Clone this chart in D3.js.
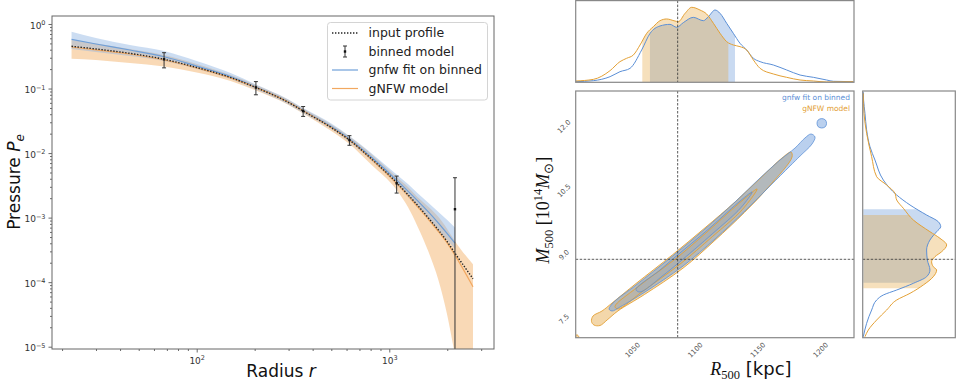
<!DOCTYPE html>
<html lang="en">
<head>
<meta charset="UTF-8" />
<title>Pressure profile and R500-M500 posterior</title>
<script src="https://d3js.org/d3.v7.min.js"></script>
<style>
  body { margin: 0; background: #fff; }
  svg { display: block; font-family: "DejaVu Sans", sans-serif; }
</style>
</head>
<body>
<svg id="chart" width="958" height="384"></svg>
<script>
// ---------- left panel data (radius in kpc, pressure) ----------
const radius       = [22.4, 30, 45, 67.7, 100, 150, 203, 300, 357, 500, 621, 800, 1092, 1250, 1400, 1600, 1800, 2000, 2193, 2720];
const inputProfile = [0.451, 0.410, 0.351, 0.284, 0.212, 0.148, 0.1036, 0.0607, 0.0448, 0.0248, 0.0159, 0.00836, 0.00349, 0.002273, 0.001562, 0.000982, 0.000640, 0.000424, 0.000282, 0.000113];
const fitBinned    = [0.579, 0.490, 0.395, 0.311, 0.223, 0.1535, 0.1055, 0.0618, 0.0456, 0.0257, 0.0165, 0.00883, 0.00381, 0.002576, 0.001835, 0.001217, 0.000822, 0.000565, 0.000402];
const fitBinnedHi  = [0.760, 0.607, 0.472, 0.381, 0.267, 0.1739, 0.1153, 0.0675, 0.0498, 0.0287, 0.01835, 0.01018, 0.00464, 0.003307, 0.002398, 0.001678, 0.001217, 0.000915, 0.000700];
const fitBinnedLo  = [0.410, 0.368, 0.319, 0.267, 0.2006, 0.1404, 0.0965, 0.0565, 0.0417, 0.02355, 0.01481, 0.00779, 0.003248, 0.002079, 0.001455, 0.000948, 0.000640, 0.000448, 0.000325];
const gnfwModel    = [0.440, 0.398, 0.343, 0.2766, 0.2079, 0.1465, 0.1036, 0.0611, 0.0451, 0.02485, 0.0159, 0.00822, 0.003365, 0.002194, 0.001481, 0.000931, 0.000607, 0.000402, 0.000262, 0.0000846];
const gnfwModelHi  = [0.565, 0.498, 0.410, 0.3307, 0.2398, 0.1619, 0.1133, 0.0663, 0.0490, 0.02766, 0.01803, 0.00982, 0.004245, 0.002971, 0.002079, 0.001455, 0.001018, 0.000663, 0.000432, 0.000190];
const gnfwModelLo  = [0.2897, 0.2766, 0.2485, 0.2194, 0.1771, 0.1307, 0.0931, 0.0555, 0.0410, 0.02194, 0.01379, 0.00675, 0.002669, 0.001455, 0.000738, 0.000292, 0.000107, 0.0000308, 0.00000738, 0.00000017];

const binRadius   = [67.7, 203, 357, 621, 1092, 2193];
const binPressure = [0.284, 0.104, 0.0448, 0.0159, 0.0034, 0.00135];
const binError    = [0.075, 0.024, 0.0078, 0.0027, 0.001, 0.0028];

const pressureTicks = [1, 1e-1, 1e-2, 1e-3, 1e-4, 1e-5];
const radiusTicks = [100, 1000];
const legendLabels = ["input profile", "binned model", "gnfw fit on binned", "gNFW model"];

// ---------- right panel data (R500 kpc, M500 1e14 Msun) ----------
const r500Ticks = [1050, 1100, 1150, 1200];
const m500Ticks = [7.5, 9.0, 10.5, 12.0];
const r500True = 1086;
const m500True = 8.895;

// marginal of R500: [R500, density]
const r500KdeBinned = [[1004.7,0.008],[1018.8,0.020],[1032.1,0.069],[1040,0.130],[1048,0.171],[1057.3,0.396],[1064,0.600],[1071.9,0.690],[1079.9,0.710],[1085.2,0.674],[1090.5,0.731],[1098.5,0.796],[1106.5,0.755],[1110.5,0.804],[1115.8,0.886],[1119.8,0.845],[1125.1,0.723],[1130.4,0.600],[1135.7,0.478],[1141,0.396],[1146.4,0.294],[1151.7,0.253],[1162.3,0.212],[1172.9,0.151],[1183.6,0.089],[1194.2,0.061],[1204.8,0.028],[1210.2,0.012],[1226.1,0.008]];
const r500KdeModel  = [[1004.7,0.016],[1018.8,0.036],[1032.1,0.143],[1040,0.253],[1045.3,0.294],[1050.7,0.335],[1056,0.457],[1061.3,0.600],[1066.6,0.682],[1071.9,0.755],[1077.2,0.776],[1083.9,0.751],[1086.5,0.743],[1091.9,0.845],[1097.2,0.919],[1103.8,0.886],[1109.1,0.837],[1114.5,0.723],[1119.8,0.600],[1125.1,0.498],[1130.4,0.457],[1135.7,0.437],[1141,0.396],[1146.4,0.273],[1151.7,0.171],[1162.3,0.102],[1172.9,0.061],[1183.6,0.028],[1194.2,0.016],[1204.8,0.004],[1226.1,0.008]];
const r500IntervalBinned = [1063.9, 1131.7];
const r500IntervalModel  = [1057.8, 1126.4];

// marginal of M500: [M500, density]
const m500KdeBinned = [[12.80,0.0],[12.618,0.003],[12.307,0.018],[11.917,0.036],[11.526,0.072],[11.215,0.126],[10.748,0.216],[10.398,0.360],[10.164,0.504],[9.930,0.683],[9.774,0.809],[9.657,0.835],[9.540,0.791],[9.346,0.719],[9.112,0.683],[8.878,0.691],[8.645,0.719],[8.488,0.683],[8.334,0.540],[8.177,0.360],[8.061,0.216],[7.944,0.144],[7.710,0.090],[7.399,0.036],[7.086,0.0]];
const m500KdeModel  = [[12.774,0.0],[12.307,0.0075],[11.839,0.036],[11.293,0.09],[10.825,0.144],[10.631,0.252],[10.437,0.342],[10.281,0.360],[10.087,0.432],[9.813,0.540],[9.540,0.719],[9.386,0.827],[9.229,0.899],[9.072,0.845],[8.956,0.773],[8.838,0.737],[8.722,0.755],[8.645,0.791],[8.488,0.755],[8.294,0.647],[8.100,0.504],[7.944,0.360],[7.710,0.252],[7.476,0.144],[7.243,0.054],[7.086,0.018]];
const m500IntervalBinned = [8.348, 10.063];
const m500IntervalModel  = [8.217, 9.930];

// 2D contours: [R500, M500]
const contourModelOuter = [[1017.3,7.441],[1018.5,7.57],[1025.7,7.687],[1033.7,7.874],[1052.8,8.329],[1081.8,8.998],[1107.8,9.631],[1132.2,10.246],[1152.7,10.811],[1169.2,11.262],[1176.4,11.402],[1177.2,11.285],[1158.7,10.592],[1139.2,9.989],[1115.8,9.341],[1090.3,8.689],[1059.5,8.072],[1038.4,7.689],[1029.7,7.476],[1024.1,7.348],[1019.3,7.359]];
const contourModelInner = [[1036.0,7.792],[1054.4,8.254],[1084.3,8.907],[1110.0,9.549],[1134.0,10.180],[1149.3,10.538],[1137.5,10.054],[1113.6,9.423],[1087.8,8.780],[1057.7,8.138],[1038.4,7.733]];
const contourModelSpeck = [[1004.2,7.08],[1005.7,7.13],[1007.2,7.08],[1005.7,7.03]];
const contourBinnedOuter = [[1031.3,7.733],[1035.2,7.897],[1052.8,8.294],[1081.5,8.960],[1107.8,9.603],[1131.7,10.234],[1151.7,10.795],[1167.6,11.215],[1179.6,11.496],[1187.5,11.730],[1192.3,11.823],[1195.5,11.753],[1193.1,11.589],[1183.6,11.309],[1175.6,11.075],[1159.6,10.608],[1139.7,10.024],[1115.8,9.369],[1090.3,8.738],[1060.0,8.131],[1040.0,7.780],[1033.7,7.687]];
const contourBinnedInner = [[1052.8,8.189],[1071.9,8.645],[1084.7,8.965],[1110.2,9.591],[1134.1,10.215],[1145.3,10.468],[1136.5,10.105],[1112.6,9.463],[1087.1,8.820],[1074.3,8.516],[1056.0,8.131]];
const contourBinnedBlob = [[1197.1,12.073],[1198.0,12.151],[1200.9,12.183],[1203.8,12.151],[1204.7,12.073],[1203.8,11.995],[1200.9,11.963],[1198.0,11.995]];

// ---------- colours ----------
const blueLine = "#6f9fd8", orangeLine = "#f2a860";
const blueFill = "#8fb4e3", orangeFill = "#f3b46e";
const blueK = "#5b8fd6", orangeK = "#e3a035";

const svg = d3.select("#chart");
const defs = svg.append("defs");
function clipRect(id, x, y, w, h) {
  defs.append("clipPath").attr("id", id).append("rect")
    .attr("x", x).attr("y", y).attr("width", w).attr("height", h);
  return `url(#${id})`;
}

// ================= left panel =================
const L = { x0: 52, x1: 494, y0: 16, y1: 349 };
const x = d3.scaleLog().domain([17.73, 3497]).range([L.x0, L.x1]);
const y = d3.scaleLog().domain([1.33, 9.21e-6]).range([L.y0, L.y1]);

const left = svg.append("g");
const plot = left.append("g").attr("clip-path", clipRect("clipL", L.x0, L.y0, L.x1 - L.x0, L.y1 - L.y0));

function band(lo) {
  return d3.area()
    .x((d, i) => x(radius[i]))
    .y0((d, i) => y(lo[i]))
    .y1(d => y(d))
    .curve(d3.curveMonotoneX);
}
const line = d3.line().x((d, i) => x(radius[i])).y(d => y(d)).curve(d3.curveMonotoneX);

plot.append("path").datum(gnfwModelHi).attr("d", band(gnfwModelLo))
  .attr("fill", orangeFill).attr("fill-opacity", 0.5);
plot.append("path").datum(fitBinnedHi).attr("d", band(fitBinnedLo))
  .attr("fill", blueFill).attr("fill-opacity", 0.45);
plot.append("path").datum(fitBinned).attr("d", line)
  .attr("fill", "none").attr("stroke", blueLine).attr("stroke-width", 1.2);
plot.append("path").datum(gnfwModel).attr("d", line)
  .attr("fill", "none").attr("stroke", orangeLine).attr("stroke-width", 1.2);
plot.append("path").datum(inputProfile).attr("d", line)
  .attr("fill", "none").attr("stroke", "#222").attr("stroke-width", 1.4).attr("stroke-dasharray", "1.4,1.6");

// error bars
const ymin = y.domain()[1];
binRadius.forEach((r, i) => {
  const cx = x(r);
  const top = y(binPressure[i] + binError[i]);
  const lowV = binPressure[i] - binError[i];
  const bot = lowV > 0 ? y(lowV) : y(ymin) + 5;
  const g = plot.append("g").attr("stroke", "#333").attr("stroke-width", 1);
  g.append("line").attr("x1", cx).attr("x2", cx).attr("y1", top).attr("y2", bot);
  g.append("line").attr("x1", cx - 2).attr("x2", cx + 2).attr("y1", top).attr("y2", top);
  g.append("line").attr("x1", cx - 2).attr("x2", cx + 2).attr("y1", bot).attr("y2", bot);
  plot.append("rect").attr("x", cx - 1.2).attr("y", y(binPressure[i]) - 1.2)
    .attr("width", 2.4).attr("height", 2.4).attr("fill", "#111");
});

// axes
function powLabel(sel) {
  sel.each(function (d) {
    const t = d3.select(this);
    const e = Math.round(Math.log10(d));
    t.text("10");
    t.append("tspan").attr("dy", "-0.55em").attr("font-size", "6.5px")
      .text(e < 0 ? "\u2212" + (-e) : String(e));
  });
}
function styleAxis(g) {
  g.select(".domain").remove();
  g.selectAll(".tick line").attr("stroke", "#444").attr("stroke-width", 0.8);
  g.selectAll(".tick text").attr("fill", "#333").attr("font-size", "9px")
    .attr("font-family", "DejaVu Sans, sans-serif");
}
const minorX = x.ticks().filter(v => !radiusTicks.includes(v));
const minorY = y.ticks().filter(v => !pressureTicks.some(p => Math.abs(p - v) / p < 1e-6));

left.append("g").attr("transform", `translate(0,${L.y1})`)
  .call(d3.axisBottom(x).tickValues(minorX).tickSize(2).tickFormat(() => ""))
  .call(styleAxis);
left.append("g").attr("transform", `translate(0,${L.y1})`)
  .call(d3.axisBottom(x).tickValues(radiusTicks).tickSize(3.5).tickPadding(5).tickFormat(() => ""))
  .call(styleAxis)
  .call(g => g.selectAll(".tick text").call(powLabel));
left.append("g").attr("transform", `translate(${L.x0},0)`)
  .call(d3.axisLeft(y).tickValues(minorY).tickSize(2).tickFormat(() => ""))
  .call(styleAxis);
left.append("g").attr("transform", `translate(${L.x0},0)`)
  .call(d3.axisLeft(y).tickValues(pressureTicks).tickSize(3.5).tickPadding(3).tickFormat(() => ""))
  .call(styleAxis)
  .call(g => g.selectAll(".tick text").attr("dy", "0.45em").call(powLabel));

left.append("rect").attr("x", L.x0).attr("y", L.y0)
  .attr("width", L.x1 - L.x0).attr("height", L.y1 - L.y0)
  .attr("fill", "none").attr("stroke", "#666").attr("stroke-width", 1);

// axis titles
const ylab = left.append("text").attr("transform", "translate(20,182) rotate(-90)")
  .attr("text-anchor", "middle").attr("font-size", "17px").attr("fill", "#111");
ylab.append("tspan").text("Pressure ");
ylab.append("tspan").attr("font-style", "italic").text("P");
ylab.append("tspan").attr("font-style", "italic").attr("font-size", "12px").attr("dy", 4).text("e");
const xlab = left.append("text").attr("x", 281).attr("y", 377)
  .attr("text-anchor", "middle").attr("font-size", "17px").attr("fill", "#111");
xlab.append("tspan").text("Radius ");
xlab.append("tspan").attr("font-style", "italic").text("r");

// legend
const lg = left.append("g");
lg.append("rect").attr("x", 327.5).attr("y", 22.5).attr("width", 160).attr("height", 77.5)
  .attr("rx", 3).attr("fill", "#fff").attr("fill-opacity", 0.85).attr("stroke", "#d4d4d4");
const rowY = [33, 51.5, 70, 88.5];
lg.append("line").attr("x1", 332).attr("x2", 358).attr("y1", rowY[0]).attr("y2", rowY[0])
  .attr("stroke", "#222").attr("stroke-width", 1.4).attr("stroke-dasharray", "1.4,1.6");
const eg = lg.append("g").attr("stroke", "#333").attr("stroke-width", 1);
eg.append("line").attr("x1", 345).attr("x2", 345).attr("y1", rowY[1] - 5.5).attr("y2", rowY[1] + 5.5);
eg.append("line").attr("x1", 343).attr("x2", 347).attr("y1", rowY[1] - 5.5).attr("y2", rowY[1] - 5.5);
eg.append("line").attr("x1", 343).attr("x2", 347).attr("y1", rowY[1] + 5.5).attr("y2", rowY[1] + 5.5);
lg.append("rect").attr("x", 343.8).attr("y", rowY[1] - 1.2).attr("width", 2.4).attr("height", 2.4).attr("fill", "#111");
lg.append("line").attr("x1", 332).attr("x2", 358).attr("y1", rowY[2]).attr("y2", rowY[2])
  .attr("stroke", blueLine).attr("stroke-width", 1.2);
lg.append("line").attr("x1", 332).attr("x2", 358).attr("y1", rowY[3]).attr("y2", rowY[3])
  .attr("stroke", orangeLine).attr("stroke-width", 1.2);
legendLabels.forEach((t, i) => {
  lg.append("text").attr("x", 368.5).attr("y", rowY[i]).attr("dy", "0.35em")
    .attr("font-size", "12.5px").attr("fill", "#222").text(t);
});

// ================= right panel =================
const M = { x0: 575.7, x1: 854, y0: 91, y1: 337.7 };
const T = { y0: 0.6, y1: 82.3 };
const S = { x0: 862.7, x1: 955.3 };
const xR = d3.scaleLinear().domain([1004.7, 1226.6]).range([M.x0, M.x1]);
const yM = d3.scaleLinear().domain([7.063, 12.828]).range([M.y1, M.y0]);
const yTop = d3.scaleLinear().domain([0, 1]).range([T.y1, T.y0 + 0.1]);
const xSide = d3.scaleLinear().domain([0, 1]).range([S.x0 + 0.6, 956]);

const right = svg.append("g");

// --- top marginal ---
const topG = right.append("g").attr("clip-path", clipRect("clipT", M.x0, T.y0, M.x1 - M.x0, T.y1 - T.y0));
const topArea = d3.area().x(d => xR(d[0])).y0(yTop(0)).y1(d => yTop(d[1])).curve(d3.curveMonotoneX);
const topLine = d3.line().x(d => xR(d[0])).y(d => yTop(d[1])).curve(d3.curveMonotoneX);
[[r500KdeBinned, r500IntervalBinned, blueK, "cTb"], [r500KdeModel, r500IntervalModel, orangeK, "cTm"]].forEach(([kde, iv, c, id]) => {
  topG.append("path").datum(kde).attr("d", topArea)
    .attr("clip-path", clipRect(id, xR(iv[0]), T.y0, xR(iv[1]) - xR(iv[0]), T.y1 - T.y0))
    .attr("fill", c).attr("fill-opacity", 0.33);
});
topG.append("path").datum(r500KdeBinned).attr("d", topLine).attr("fill", "none").attr("stroke", blueK).attr("stroke-width", 1);
topG.append("path").datum(r500KdeModel).attr("d", topLine).attr("fill", "none").attr("stroke", orangeK).attr("stroke-width", 1);
topG.append("line").attr("x1", xR(r500True)).attr("x2", xR(r500True)).attr("y1", T.y0).attr("y2", T.y1)
  .attr("stroke", "#333").attr("stroke-width", 0.8).attr("stroke-dasharray", "2.5,1.5");
right.append("rect").attr("x", M.x0).attr("y", T.y0).attr("width", M.x1 - M.x0).attr("height", T.y1 - T.y0)
  .attr("fill", "none").attr("stroke", "#888").attr("stroke-width", 1.2);

// --- side marginal ---
const sideG = right.append("g").attr("clip-path", clipRect("clipS", S.x0, M.y0, S.x1 - S.x0, M.y1 - M.y0));
const sideArea = d3.area().y(d => yM(d[0])).x0(xSide(0)).x1(d => xSide(d[1])).curve(d3.curveMonotoneY);
const sideLine = d3.line().y(d => yM(d[0])).x(d => xSide(d[1])).curve(d3.curveMonotoneY);
[[m500KdeBinned, m500IntervalBinned, blueK, "cSb"], [m500KdeModel, m500IntervalModel, orangeK, "cSm"]].forEach(([kde, iv, c, id]) => {
  sideG.append("path").datum(kde).attr("d", sideArea)
    .attr("clip-path", clipRect(id, S.x0, yM(iv[1]), S.x1 - S.x0, yM(iv[0]) - yM(iv[1])))
    .attr("fill", c).attr("fill-opacity", 0.33);
});
sideG.append("path").datum(m500KdeBinned).attr("d", sideLine).attr("fill", "none").attr("stroke", blueK).attr("stroke-width", 1);
sideG.append("path").datum(m500KdeModel).attr("d", sideLine).attr("fill", "none").attr("stroke", orangeK).attr("stroke-width", 1);
sideG.append("line").attr("x1", S.x0).attr("x2", S.x1).attr("y1", yM(m500True)).attr("y2", yM(m500True))
  .attr("stroke", "#333").attr("stroke-width", 0.8).attr("stroke-dasharray", "2.5,1.5");
right.append("rect").attr("x", S.x0).attr("y", M.y0).attr("width", S.x1 - S.x0).attr("height", M.y1 - M.y0)
  .attr("fill", "none").attr("stroke", "#888").attr("stroke-width", 1.2);

// --- main 2D panel ---
const mainG = right.append("g").attr("clip-path", clipRect("clipM", M.x0, M.y0, M.x1 - M.x0, M.y1 - M.y0));
const shape = d3.line().x(d => xR(d[0])).y(d => yM(d[1])).curve(d3.curveCatmullRomClosed.alpha(0.5));
[contourModelOuter, contourModelSpeck].forEach(c =>
  mainG.append("path").datum(c).attr("d", shape).attr("fill", orangeK).attr("fill-opacity", 0.42));
[contourBinnedOuter, contourBinnedBlob].forEach(c =>
  mainG.append("path").datum(c).attr("d", shape).attr("fill", blueK).attr("fill-opacity", 0.42));
mainG.append("path").datum(contourModelInner).attr("d", shape).attr("fill", orangeK).attr("fill-opacity", 0.12);
mainG.append("path").datum(contourBinnedInner).attr("d", shape).attr("fill", blueK).attr("fill-opacity", 0.12);
[contourModelOuter, contourModelInner, contourModelSpeck].forEach(c =>
  mainG.append("path").datum(c).attr("d", shape).attr("fill", "none").attr("stroke", orangeK).attr("stroke-width", 0.9));
[contourBinnedOuter, contourBinnedInner, contourBinnedBlob].forEach(c =>
  mainG.append("path").datum(c).attr("d", shape).attr("fill", "none").attr("stroke", blueK).attr("stroke-width", 0.9).attr("stroke-opacity", 0.85));
mainG.append("line").attr("x1", xR(r500True)).attr("x2", xR(r500True)).attr("y1", M.y0).attr("y2", M.y1)
  .attr("stroke", "#333").attr("stroke-width", 0.8).attr("stroke-dasharray", "2.5,1.5");
mainG.append("line").attr("x1", M.x0).attr("x2", M.x1).attr("y1", yM(m500True)).attr("y2", yM(m500True))
  .attr("stroke", "#333").attr("stroke-width", 0.8).attr("stroke-dasharray", "2.5,1.5");
right.append("rect").attr("x", M.x0).attr("y", M.y0).attr("width", M.x1 - M.x0).attr("height", M.y1 - M.y0)
  .attr("fill", "none").attr("stroke", "#888").attr("stroke-width", 1.2);

// in-panel legend
right.append("text").attr("x", 850).attr("y", 97).attr("dy", "0.35em").attr("text-anchor", "end")
  .attr("font-size", "7.5px").attr("fill", blueK).text("gnfw fit on binned");
right.append("text").attr("x", 850).attr("y", 108.5).attr("dy", "0.35em").attr("text-anchor", "end")
  .attr("font-size", "7.5px").attr("fill", orangeK).text("gNFW model");

// rotated tick labels
r500Ticks.forEach(t => {
  right.append("text").attr("transform", `translate(${xR(t)},350) rotate(-45)`)
    .attr("text-anchor", "middle").attr("dy", "0.35em").attr("font-size", "7px").attr("fill", "#555").text(t);
});
m500Ticks.forEach(t => {
  right.append("text").attr("transform", `translate(564,${yM(t)}) rotate(-45)`)
    .attr("text-anchor", "middle").attr("dy", "0.35em").attr("font-size", "7px").attr("fill", "#555").text(t.toFixed(1));
});

// axis titles
const rlab = right.append("text").attr("x", 751).attr("y", 375).attr("text-anchor", "middle")
  .attr("font-size", "18px").attr("fill", "#111");
rlab.append("tspan").attr("font-family", "Liberation Serif, serif").attr("font-style", "italic").text("R");
rlab.append("tspan").attr("font-family", "Liberation Serif, serif").attr("font-size", "12.5px").attr("dy", 4).text("500");
rlab.append("tspan").attr("dy", -4).text(" [kpc]");

const mlab = right.append("text").attr("transform", "translate(549,210) rotate(-90)").attr("text-anchor", "middle")
  .attr("font-size", "18px").attr("fill", "#111").attr("font-family", "Liberation Serif, serif");
mlab.append("tspan").attr("font-style", "italic").text("M");
mlab.append("tspan").attr("font-size", "12.5px").attr("dy", 4).text("500");
mlab.append("tspan").attr("dy", -4).text(" [10");
mlab.append("tspan").attr("font-size", "12.5px").attr("dy", -7).text("14");
mlab.append("tspan").attr("font-style", "italic").attr("dy", 7).text("M");
mlab.append("tspan").attr("font-size", "12.5px").attr("dy", 4).text("\u2299");
mlab.append("tspan").attr("dy", -4).text("]");
</script>
</body>
</html>
